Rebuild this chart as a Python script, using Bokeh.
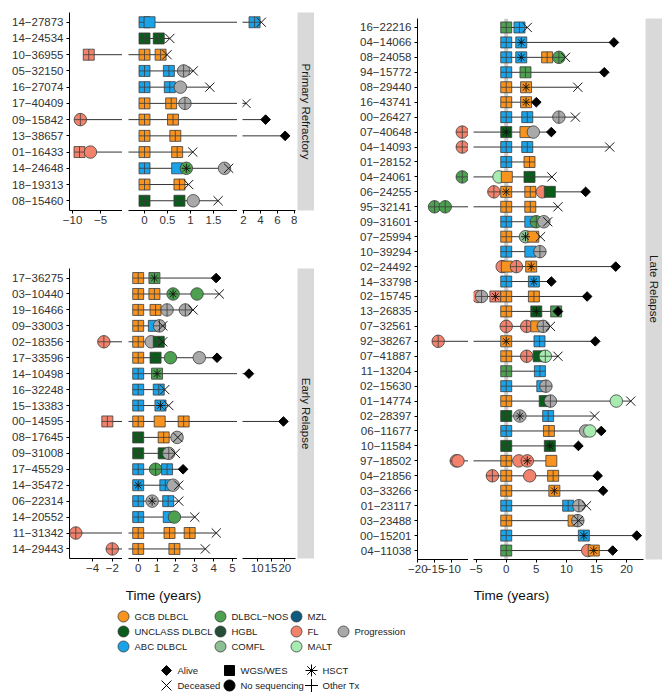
import math
from bokeh.plotting import figure
from bokeh.models import Range1d, FixedTicker, ColumnDataSource, Span
from bokeh.layouts import row, column
from bokeh.embed import file_html
from bokeh.resources import INLINE
from bokeh.core.properties import value, field

FONT = "Liberation Sans"

# ---------------- data ----------------
subtype_keys = ["GCB", "UNC", "ABC", "NOS", "HGBL", "COMFL", "MZL", "FL", "MALT", "PROG"]
subtype_names = ["GCB DLBCL", "UNCLASS DLBCL", "ABC DLBCL", "DLBCL\u2212NOS", "HGBL", "COMFL",
                 "MZL", "FL", "MALT", "Progression"]
subtype_colors = ["#F7931E", "#0A5C1A", "#1AA3E8", "#4CA050", "#274D36", "#8DBF94",
                  "#0F5B80", "#F2826B", "#A8EBB0", "#A9A9A9"]
COLORS = dict(zip(subtype_keys, subtype_colors))

shape_names = ["Alive", "Deceased", "WGS/WES", "No sequencing", "HSCT", "Other Tx"]
panel_names = ["Primary Refractory", "Early Relapse", "Late Relapse"]

# events: (patient, time in years, subtype, shape s=WGS/WES c=no sequencing, tx "+"=Other Tx "*"=HSCT)
pr_ids = ["14-27873", "14-24534", "10-36955", "05-32150", "16-27074", "17-40409",
          "09-15842", "13-38657", "01-16433", "14-24648", "18-19313", "08-15460"]
pr_events = [
    ("14-27873", 0.0, "ABC", "s", "+"), ("14-27873", 0.11, "ABC", "s", ""), ("14-27873", 3.3, "ABC", "s", "+"),
    ("14-24534", 0.0, "UNC", "s", "+"), ("14-24534", 0.31, "UNC", "s", "+"),
    ("10-36955", -7.1, "FL", "s", "+"), ("10-36955", 0.0, "GCB", "s", "+"), ("10-36955", 0.35, "GCB", "s", "+"),
    ("05-32150", 0.0, "ABC", "s", "+"), ("05-32150", 0.53, "ABC", "s", "+"), ("05-32150", 0.85, "PROG", "c", "+"),
    ("16-27074", 0.0, "ABC", "s", "+"), ("16-27074", 0.55, "ABC", "s", "+"), ("16-27074", 0.78, "PROG", "c", ""),
    ("17-40409", 0.0, "GCB", "s", "+"), ("17-40409", 0.58, "GCB", "s", "+"), ("17-40409", 0.88, "PROG", "c", "+"),
    ("09-15842", -8.6, "FL", "c", "+"), ("09-15842", 0.0, "GCB", "s", "+"), ("09-15842", 0.62, "GCB", "s", "+"),
    ("13-38657", 0.0, "GCB", "s", "+"), ("13-38657", 0.67, "GCB", "s", "+"),
    ("01-16433", -8.75, "FL", "s", "+"), ("01-16433", -6.8, "FL", "c", ""), ("01-16433", 0.0, "GCB", "s", "+"),
    ("01-16433", 0.71, "GCB", "s", "+"),
    ("14-24648", 0.0, "ABC", "s", "+"), ("14-24648", 0.71, "ABC", "s", ""), ("14-24648", 0.91, "NOS", "c", "*"),
    ("14-24648", 1.74, "PROG", "c", ""),
    ("18-19313", 0.0, "GCB", "s", "+"), ("18-19313", 0.76, "GCB", "s", "+"),
    ("08-15460", 0.0, "UNC", "s", "+"), ("08-15460", 0.76, "UNC", "s", "+"), ("08-15460", 1.06, "PROG", "c", ""),
]
pr_outcomes = [
    ("14-27873", 4.1, "D"), ("14-24534", 0.55, "D"), ("10-36955", 0.49, "D"), ("05-32150", 1.06, "D"),
    ("16-27074", 1.42, "D"), ("17-40409", 2.3, "D"), ("09-15842", 4.6, "A"), ("13-38657", 6.9, "A"),
    ("01-16433", 1.05, "D"), ("14-24648", 1.83, "D"), ("18-19313", 0.96, "D"), ("08-15460", 1.6, "D"),
]

er_ids = ["17-36275", "03-10440", "19-16466", "09-33003", "02-18356", "17-33596", "14-10498",
          "16-32248", "15-13383", "00-14595", "08-17645", "09-31008", "17-45529", "14-35472",
          "06-22314", "14-20552", "11-31342", "14-29443"]
er_events = [
    ("17-36275", 0.0, "GCB", "s", "+"), ("17-36275", 0.86, "NOS", "s", "*"),
    ("03-10440", 0.0, "GCB", "s", "+"), ("03-10440", 0.86, "GCB", "s", "+"), ("03-10440", 1.85, "NOS", "c", "*"),
    ("03-10440", 3.12, "NOS", "c", ""),
    ("19-16466", 0.0, "GCB", "s", "+"), ("19-16466", 0.92, "GCB", "s", "+"), ("19-16466", 1.53, "PROG", "c", "+"),
    ("19-16466", 2.5, "PROG", "c", "+"),
    ("09-33003", 0.0, "GCB", "s", "+"), ("09-33003", 0.83, "ABC", "s", ""), ("09-33003", 1.13, "PROG", "c", "+"),
    ("02-18356", -2.85, "FL", "c", "+"), ("02-18356", 0.0, "GCB", "s", "+"), ("02-18356", 0.69, "PROG", "c", ""),
    ("02-18356", 1.09, "UNC", "s", "+"),
    ("17-33596", 0.0, "GCB", "s", "+"), ("17-33596", 0.92, "UNC", "s", "+"), ("17-33596", 1.71, "NOS", "c", ""),
    ("17-33596", 3.24, "PROG", "c", ""),
    ("14-10498", 0.0, "ABC", "s", "+"), ("14-10498", 1.0, "NOS", "s", "*"),
    ("16-32248", 0.0, "ABC", "s", "+"), ("16-32248", 1.09, "ABC", "s", "+"),
    ("15-13383", 0.0, "ABC", "s", "+"), ("15-13383", 1.18, "ABC", "s", "*"),
    ("00-14595", -2.5, "FL", "s", "+"), ("00-14595", 0.0, "GCB", "s", "+"), ("00-14595", 1.14, "GCB", "s", ""),
    ("00-14595", 2.41, "GCB", "s", "+"),
    ("08-17645", 0.0, "UNC", "s", "+"), ("08-17645", 1.35, "GCB", "s", "+"), ("08-17645", 2.06, "PROG", "c", ""),
    ("09-31008", 0.0, "UNC", "s", "+"), ("09-31008", 1.35, "UNC", "s", "+"), ("09-31008", 1.62, "PROG", "c", "+"),
    ("17-45529", 0.0, "ABC", "s", "+"), ("17-45529", 0.92, "NOS", "c", "+"), ("17-45529", 1.53, "ABC", "s", "+"),
    ("14-35472", 0.0, "ABC", "s", "*"), ("14-35472", 1.44, "ABC", "s", "+"), ("14-35472", 1.85, "PROG", "c", ""),
    ("06-22314", 0.0, "ABC", "s", "+"), ("06-22314", 0.74, "PROG", "c", "*"), ("06-22314", 1.59, "ABC", "s", "+"),
    ("14-20552", 0.0, "ABC", "s", "+"), ("14-20552", 1.62, "ABC", "s", ""), ("14-20552", 1.92, "NOS", "c", ""),
    ("11-31342", -5.7, "FL", "c", "+"), ("11-31342", 0.0, "GCB", "s", "+"), ("11-31342", 1.66, "GCB", "s", "+"),
    ("11-31342", 2.73, "GCB", "s", "+"),
    ("14-29443", -2.0, "FL", "c", "+"), ("14-29443", 0.0, "GCB", "s", "+"), ("14-29443", 1.92, "GCB", "s", "+"),
]
er_outcomes = [
    ("17-36275", 4.13, "A"), ("03-10440", 4.3, "D"), ("19-16466", 2.91, "D"), ("09-33003", 1.3, "D"),
    ("02-18356", 1.3, "D"), ("17-33596", 4.18, "A"), ("14-10498", 7.0, "A"), ("16-32248", 1.41, "D"),
    ("15-13383", 1.62, "D"), ("00-14595", 19.5, "A"), ("08-17645", 2.1, "D"), ("09-31008", 1.97, "D"),
    ("17-45529", 2.38, "A"), ("14-35472", 2.15, "D"), ("06-22314", 2.15, "D"), ("14-20552", 3.0, "D"),
    ("11-31342", 4.14, "D"), ("14-29443", 3.56, "D"),
]

lr_ids = ["16-22216", "04-14066", "08-24058", "94-15772", "08-29440", "16-43741", "00-26427",
          "07-40648", "04-14093", "01-28152", "04-24061", "06-24255", "95-32141", "09-31601",
          "07-25994", "10-39294", "02-24492", "14-33798", "02-15745", "13-26835", "07-32561",
          "92-38267", "07-41887", "11-13204", "02-15630", "01-14774", "02-28397", "06-11677",
          "10-11584", "97-18502", "04-21856", "03-33266", "01-23117", "03-23488", "00-15201",
          "04-11038"]
lr_events = [
    ("16-22216", 0.0, "NOS", "s", "+"), ("16-22216", 2.2, "ABC", "s", "+"),
    ("04-14066", 0.0, "ABC", "s", "+"), ("04-14066", 2.5, "ABC", "s", "*"),
    ("08-24058", 0.0, "ABC", "s", "+"), ("08-24058", 2.5, "ABC", "s", "*"), ("08-24058", 6.8, "GCB", "s", "+"),
    ("08-24058", 8.75, "NOS", "c", "+"),
    ("94-15772", 0.0, "ABC", "s", "+"), ("94-15772", 3.2, "NOS", "s", "+"),
    ("08-29440", 0.0, "GCB", "s", "+"), ("08-29440", 3.3, "GCB", "s", "*"),
    ("16-43741", 0.0, "GCB", "s", "+"), ("16-43741", 3.3, "GCB", "s", "*"),
    ("00-26427", 0.0, "ABC", "s", "+"), ("00-26427", 3.5, "ABC", "s", "+"), ("00-26427", 8.75, "PROG", "c", "+"),
    ("07-40648", -6.7, "FL", "c", "+"), ("07-40648", 0.0, "UNC", "s", "*"), ("07-40648", 3.2, "GCB", "s", ""),
    ("07-40648", 4.5, "PROG", "c", ""),
    ("04-14093", -6.7, "FL", "c", "+"), ("04-14093", 0.0, "ABC", "s", "+"), ("04-14093", 3.5, "ABC", "s", "+"),
    ("01-28152", 0.0, "ABC", "s", "+"), ("01-28152", 3.87, "GCB", "s", "+"),
    ("04-24061", -6.7, "NOS", "c", "+"), ("04-24061", -1.2, "MALT", "c", ""), ("04-24061", 0.1, "GCB", "s", ""),
    ("04-24061", 3.87, "UNC", "s", "+"),
    ("06-24255", -2.05, "FL", "c", "+"), ("06-24255", 0.0, "GCB", "s", "*"), ("06-24255", 4.0, "GCB", "s", "+"),
    ("06-24255", 6.0, "FL", "c", ""), ("06-24255", 7.25, "UNC", "s", ""),
    ("95-32141", -15.0, "NOS", "c", "+"), ("95-32141", -11.8, "NOS", "c", "+"), ("95-32141", 0.0, "GCB", "s", "+"),
    ("95-32141", 4.0, "GCB", "s", "+"),
    ("09-31601", 0.0, "ABC", "s", "+"), ("09-31601", 4.0, "ABC", "s", ""), ("09-31601", 5.0, "NOS", "c", "+"),
    ("09-31601", 6.25, "PROG", "c", ""),
    ("07-25994", 0.0, "GCB", "s", "+"), ("07-25994", 3.2, "COMFL", "c", "*"), ("07-25994", 4.5, "GCB", "s", ""),
    ("10-39294", 0.0, "ABC", "s", "+"), ("10-39294", 4.0, "ABC", "s", ""), ("10-39294", 5.6, "PROG", "c", "+"),
    ("02-24492", -0.67, "FL", "c", ""), ("02-24492", 0.1, "GCB", "s", ""), ("02-24492", 1.7, "FL", "c", "+"),
    ("02-24492", 4.15, "GCB", "s", "*"),
    ("14-33798", 0.0, "ABC", "s", "+"), ("14-33798", 4.6, "ABC", "s", "*"),
    ("02-15745", -4.7, "FL", "c", ""), ("02-15745", -4.1, "PROG", "c", "+"), ("02-15745", -1.8, "FL", "s", "*"),
    ("02-15745", 0.0, "GCB", "s", "+"), ("02-15745", 4.6, "GCB", "s", "+"),
    ("13-26835", 0.0, "GCB", "s", "+"), ("13-26835", 5.0, "UNC", "s", "*"), ("13-26835", 8.3, "NOS", "s", ""),
    ("07-32561", 0.0, "FL", "c", "+"), ("07-32561", 3.4, "FL", "c", "+"), ("07-32561", 5.0, "GCB", "s", ""),
    ("07-32561", 6.15, "PROG", "c", "+"),
    ("92-38267", -13.9, "FL", "c", "+"), ("92-38267", 0.0, "GCB", "s", "*"), ("92-38267", 5.53, "ABC", "s", "+"),
    ("07-41887", 0.0, "GCB", "s", "+"), ("07-41887", 3.4, "FL", "c", "+"), ("07-41887", 5.4, "UNC", "s", ""),
    ("07-41887", 6.5, "MALT", "c", "+"),
    ("11-13204", 0.0, "NOS", "s", "+"), ("11-13204", 5.6, "ABC", "s", "+"),
    ("02-15630", 0.0, "ABC", "s", "+"), ("02-15630", 6.0, "ABC", "s", ""), ("02-15630", 6.6, "PROG", "c", "+"),
    ("01-14774", 0.0, "GCB", "s", "+"), ("01-14774", 6.4, "UNC", "s", ""), ("01-14774", 7.35, "PROG", "c", "+"),
    ("01-14774", 18.3, "MALT", "c", ""),
    ("02-28397", 0.0, "UNC", "s", "+"), ("02-28397", 2.27, "PROG", "c", "*"), ("02-28397", 6.97, "ABC", "s", "+"),
    ("06-11677", 0.0, "ABC", "s", "+"), ("06-11677", 7.1, "GCB", "s", "+"), ("06-11677", 13.2, "PROG", "c", ""),
    ("06-11677", 13.9, "MALT", "c", ""),
    ("10-11584", 0.0, "UNC", "s", "+"), ("10-11584", 7.25, "UNC", "s", "*"),
    ("97-18502", -8.5, "FL", "c", "+"), ("97-18502", -8.0, "FL", "c", ""), ("97-18502", 0.0, "GCB", "s", "+"),
    ("97-18502", 2.1, "FL", "c", ""), ("97-18502", 3.5, "FL", "c", "*"), ("97-18502", 7.5, "GCB", "s", ""),
    ("04-21856", -2.3, "FL", "c", "+"), ("04-21856", 0.0, "GCB", "s", "+"), ("04-21856", 3.9, "FL", "c", ""),
    ("04-21856", 7.8, "GCB", "s", "+"),
    ("03-33266", 0.0, "GCB", "s", "+"), ("03-33266", 8.0, "GCB", "s", "*"),
    ("01-23117", 0.0, "ABC", "s", "+"), ("01-23117", 10.3, "ABC", "s", "+"), ("01-23117", 12.07, "PROG", "c", "+"),
    ("03-23488", 0.0, "GCB", "s", "+"), ("03-23488", 11.2, "GCB", "s", ""), ("03-23488", 11.9, "PROG", "c", "+"),
    ("00-15201", 0.0, "ABC", "s", "+"), ("00-15201", 12.9, "ABC", "s", "*"),
    ("04-11038", 0.0, "NOS", "s", "+"), ("04-11038", 13.55, "FL", "c", ""), ("04-11038", 14.55, "GCB", "s", "*"),
]
lr_outcomes = [
    ("16-22216", 3.5, "D"), ("04-14066", 17.9, "A"), ("08-24058", 9.85, "D"), ("94-15772", 16.3, "A"),
    ("08-29440", 11.9, "D"), ("16-43741", 5.0, "A"), ("00-26427", 11.5, "D"), ("07-40648", 7.5, "A"),
    ("04-14093", 17.2, "D"), ("04-24061", 7.6, "D"), ("06-24255", 13.2, "A"), ("95-32141", 8.6, "D"),
    ("09-31601", 6.9, "D"), ("07-25994", 5.7, "D"), ("02-24492", 18.2, "A"), ("14-33798", 7.5, "A"),
    ("02-15745", 13.45, "A"), ("13-26835", 8.6, "A"), ("07-32561", 7.35, "D"), ("92-38267", 14.8, "A"),
    ("07-41887", 8.6, "D"), ("01-14774", 20.7, "D"), ("02-28397", 14.7, "D"), ("06-11677", 15.8, "A"),
    ("10-11584", 12.0, "A"), ("04-21856", 15.2, "A"), ("03-33266", 16.1, "A"), ("01-23117", 13.35, "D"),
    ("03-23488", 12.0, "D"), ("00-15201", 21.7, "A"), ("04-11038", 17.7, "A"),
]

# axis segments (broken x axes): (start, end, ticks)
pr_segments = [(-10.54, -1.07, [-10, -5]), (-0.348, 2.022, [0, 0.5, 1, 1.5]), (1.88, 8.12, [2, 4, 6, 8])]
er_segments = [(-6.34, -0.96, [-4, -2]), (-0.514, 5.265, [0, 1, 2, 3, 4, 5]), (4.67, 23.87, [10, 15, 20])]
lr_segments = [(-20.1, -4.83, [-20, -15, -10]), (-5.44, 22.82, [-5, 0, 5, 10, 15, 20])]

MINUS = "\u2212"


def fmt_tick(t):
    s = "%g" % abs(t)
    return MINUS + s if t < 0 else s


def style_axis(ax, standoff):
    ax.axis_line_color = "black"
    ax.axis_line_width = 1
    ax.major_tick_line_color = "black"
    ax.major_tick_out = 3
    ax.major_tick_in = 0
    ax.minor_tick_line_color = None
    ax.major_label_text_font = FONT
    ax.major_label_text_font_size = "11.5px"
    ax.major_label_text_color = "#333333"
    ax.major_label_standoff = standoff


def make_segment(ids, events, outcomes, seg, frame_w, frame_h, left, right, top, bottom,
                 show_y=False, zero_band=False):
    lo, hi, ticks = seg
    n = len(ids)
    p = figure(width=left + frame_w + right, height=top + frame_h + bottom,
               x_range=Range1d(lo, hi), y_range=Range1d(-0.6, n - 0.4),
               output_backend="svg", toolbar_location=None,
               y_axis_location="left" if show_y else None,
               min_border_left=left, min_border_right=right,
               min_border_top=top, min_border_bottom=bottom)
    p.outline_line_color = None
    p.grid.visible = False
    ypos = {pid: n - 1 - i for i, pid in enumerate(ids)}

    if zero_band:
        p.add_layout(Span(location=0, dimension="height", line_color="#CDCDCD",
                          line_width=4, level="underlay"))

    # connecting lines
    allt = {}
    for e in events:
        allt.setdefault(e[0], []).append(e[1])
    for o in outcomes:
        allt.setdefault(o[0], []).append(o[1])
    lp = [q for q in ids if q in allt]
    p.segment(x0=[min(allt[q]) for q in lp], y0=[ypos[q] for q in lp],
              x1=[max(allt[q]) for q in lp], y1=[ypos[q] for q in lp],
              line_color="#333333", line_width=1)

    # samples
    ev = sorted([e for e in events if lo <= e[1] <= hi], key=lambda e: e[1])
    mk, sz = [], []
    for (_, _, _, shp, tx) in ev:
        if shp == "s":
            mk.append("square_cross" if tx == "+" else "square")
            sz.append(11)
        else:
            mk.append("circle_cross" if tx == "+" else "circle")
            sz.append(12.5)
    src = ColumnDataSource(dict(x=[e[1] for e in ev], y=[ypos[e[0]] for e in ev],
                                m=mk, s=sz, c=[COLORS[e[2]] for e in ev]))
    p.scatter(x="x", y="y", marker=field("m"), size="s", fill_color="c",
              line_color="#3c3c3c", line_width=0.8, source=src)
    hs = [e for e in ev if e[4] == "*"]
    p.scatter(x=[e[1] for e in hs], y=[ypos[e[0]] for e in hs], marker="asterisk",
              size=9, line_color="#111111", line_width=0.9)

    # outcomes: Alive = filled diamond (rotated square), Deceased = X
    oa = [o for o in outcomes if lo <= o[1] <= hi and o[2] == "A"]
    od = [o for o in outcomes if lo <= o[1] <= hi and o[2] == "D"]
    p.scatter(x=[o[1] for o in oa], y=[ypos[o[0]] for o in oa], marker="square",
              angle=math.pi / 4, size=6.8, fill_color="black", line_color="black")
    p.scatter(x=[o[1] for o in od], y=[ypos[o[0]] for o in od], marker="x",
              size=13, line_color="#1a1a1a", line_width=1)

    xa = p.xaxis[0]
    xa.ticker = FixedTicker(ticks=ticks)
    xa.major_label_overrides = {t: fmt_tick(t) for t in ticks}
    style_axis(xa, 2)
    if show_y:
        ya = p.yaxis[0]
        ya.ticker = FixedTicker(ticks=list(range(n)))
        ya.major_label_overrides = {n - 1 - i: pid.replace("-", MINUS) for i, pid in enumerate(ids)}
        style_axis(ya, 3)
    return p


def make_strip(text, frame_w, frame_h, top, bottom):
    p = figure(width=frame_w, height=top + frame_h + bottom,
               x_range=Range1d(0, 1), y_range=Range1d(0, 1),
               output_backend="svg", toolbar_location=None,
               x_axis_location=None, y_axis_location=None,
               min_border_left=0, min_border_right=0,
               min_border_top=top, min_border_bottom=bottom)
    p.outline_line_color = None
    p.grid.visible = False
    p.background_fill_color = "#D9D9D9"
    p.text(x=[0.5], y=[0.5], text=[text], angle=-math.pi / 2, text_align="center",
           text_baseline="middle", text_font=value(FONT), text_font_size="11.5px",
           text_color="#1a1a1a")
    return p


# ---------------- panels ----------------
PR_T, PR_H, PR_B = 12, 198, 22
ER_T, ER_H, ER_B = 36, 290, 22
LR_T, LR_H, LR_B = 18, 541, 21

pr = [make_segment(pr_ids, pr_events, pr_outcomes, pr_segments[0], 53, PR_H, 69, 0, PR_T, PR_B, show_y=True),
      make_segment(pr_ids, pr_events, pr_outcomes, pr_segments[1], 109, PR_H, 6, 0, PR_T, PR_B),
      make_segment(pr_ids, pr_events, pr_outcomes, pr_segments[2], 53, PR_H, 5, 2, PR_T, PR_B),
      make_strip(panel_names[0], 17, PR_H, PR_T, PR_B)]
er = [make_segment(er_ids, er_events, er_outcomes, er_segments[0], 53, ER_H, 69, 0, ER_T, ER_B, show_y=True),
      make_segment(er_ids, er_events, er_outcomes, er_segments[1], 109, ER_H, 6, 0, ER_T, ER_B),
      make_segment(er_ids, er_events, er_outcomes, er_segments[2], 53, ER_H, 5, 2, ER_T, ER_B),
      make_strip(panel_names[1], 17, ER_H, ER_T, ER_B)]
lr = [make_segment(lr_ids, lr_events, lr_outcomes, lr_segments[0], 51, LR_H, 103, 0, LR_T, LR_B, show_y=True),
      make_segment(lr_ids, lr_events, lr_outcomes, lr_segments[1], 170, LR_H, 5, 2, LR_T, LR_B, zero_band=True),
      make_strip(panel_names[2], 17, LR_H, LR_T, LR_B)]

# ---------------- legend / axis titles ----------------
lg = figure(width=662, height=116, x_range=Range1d(0, 662), y_range=Range1d(696, 580),
            output_backend="svg", toolbar_location=None,
            x_axis_location=None, y_axis_location=None,
            min_border_left=0, min_border_right=0, min_border_top=0, min_border_bottom=0)
lg.outline_line_color = None
lg.grid.visible = False

lg.text(x=[163, 511], y=[595, 595], text=["Time (years)", "Time (years)"], text_align="center",
        text_baseline="middle", text_font=value(FONT), text_font_size="13.5px", text_color="#111111")

fill_x = [123, 123, 123, 220, 220, 220, 296, 296, 296, 343]
fill_y = [616, 631, 646, 616, 631, 646, 616, 631, 646, 631]
lg.scatter(x=fill_x, y=fill_y, marker="circle", size=11, fill_color=subtype_colors,
           line_color="#3c3c3c", line_width=0.8)
lg.text(x=[v + 11 for v in fill_x], y=fill_y, text=subtype_names, text_align="left",
        text_baseline="middle", text_font=value(FONT), text_font_size="9.5px", text_color="#1a1a1a")

sh_x = [166, 166, 229, 229, 311, 311]
sh_y = [670, 685, 670, 685, 670, 685]
sh_marker = ["square", "x", "square", "circle", "asterisk", "cross"]
sh_angle = [math.pi / 4, 0, 0, 0, 0, 0]
sh_size = [7, 14, 10, 11, 12, 13]
lg.scatter(x=sh_x, y=sh_y, marker=sh_marker, angle=sh_angle, size=sh_size, fill_color="black",
           line_color="black", line_width=1)
lg.text(x=[v + 11 for v in sh_x], y=sh_y, text=shape_names, text_align="left",
        text_baseline="middle", text_font=value(FONT), text_font_size="9.5px", text_color="#1a1a1a")

left_col = column(row(*pr), row(*er))
right_col = row(*lr)
layout = column(row(left_col, right_col), lg)

open("out.html", "w").write(file_html(layout, INLINE))
